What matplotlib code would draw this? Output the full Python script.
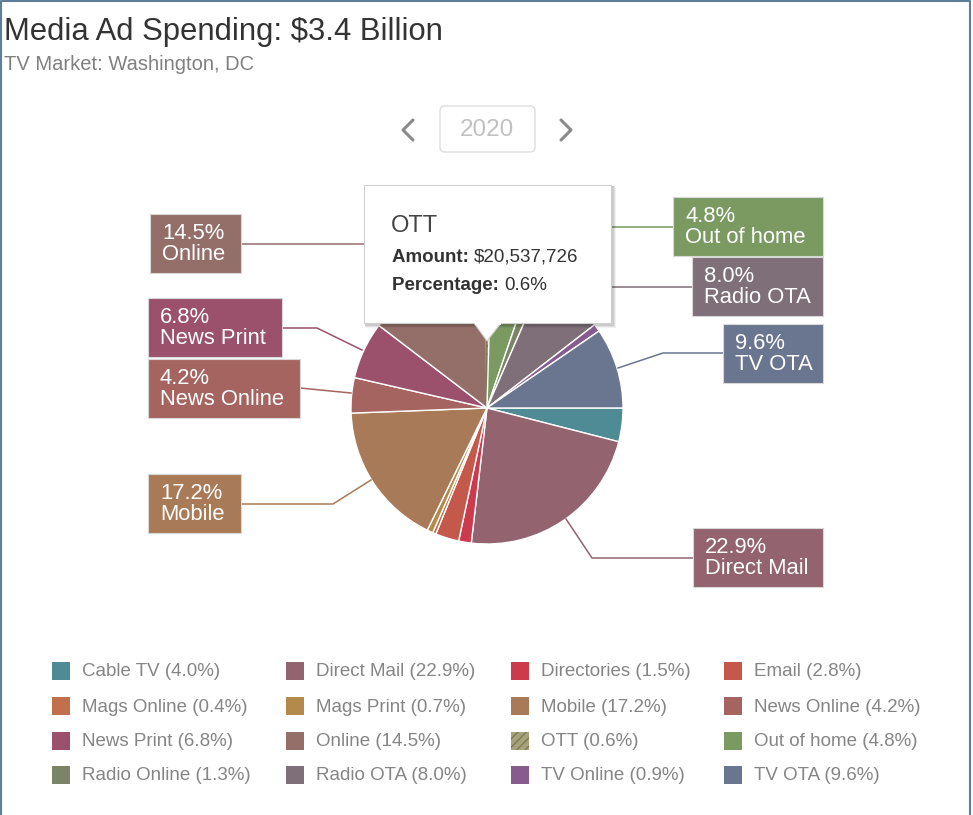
import matplotlib
matplotlib.use("Agg")
import matplotlib.pyplot as plt
from matplotlib.patches import Rectangle, FancyBboxPatch, Polygon

plt.rcParams['font.family'] = ['Liberation Sans', 'DejaVu Sans']

# data
categories = ['Cable TV', 'Direct Mail', 'Directories', 'Email', 'Mags Online', 'Mags Print',
              'Mobile', 'News Online', 'News Print', 'Online', 'OTT', 'Out of home',
              'Radio Online', 'Radio OTA', 'TV Online', 'TV OTA']
shares = [4.0, 22.9, 1.5, 2.8, 0.4, 0.7, 17.2, 4.2, 6.8, 14.5, 0.6, 4.8, 1.3, 8.0, 0.9, 9.6]
colors = ['#4e8b95', '#93646f', '#cb3a4d', '#c4594b', '#c1704b', '#b48a4c',
          '#a97a57', '#a5645f', '#9b506c', '#946f6a', '#a6a27c', '#7a9a62',
          '#7c8468', '#7f6f78', '#855c8c', '#6a7590']
year = '2020'
total_label = '$3.4 Billion'
market = 'Washington, DC'
tip_name = 'OTT'
tip_amount = '$20,537,726'

# callout boxes: name -> (box left, box top, box width, leader points)
callouts = {
    'Online':      (150, 214, 91,  [(241, 244), (365, 244)]),
    'News Print':  (148, 298, 134, [(282, 328), (317, 328), (362, 350)]),
    'News Online': (148, 359, 152, [(300, 388), (351, 393)]),
    'Mobile':      (148, 474, 93,  [(241, 504), (333, 504), (371, 480)]),
    'Direct Mail': (693, 528, 130, [(693, 558), (592, 558), (566, 519)]),
    'Out of home': (673, 197, 150, [(673, 227), (612, 227)]),
    'Radio OTA':   (692, 257, 131, [(692, 287), (612, 287)]),
    'TV OTA':      (723, 324, 100, [(723, 353), (663, 353), (618, 368)]),
}

fig = plt.figure(figsize=(9.73, 8.15), dpi=100)
ax = fig.add_axes([0, 0, 1, 1])

cx, cy, r = 487, 408, 136
wedges, _ = ax.pie(shares, colors=colors, startangle=0, counterclock=True,
                   center=(cx, cy), radius=r,
                   wedgeprops=dict(edgecolor='white', linewidth=1.0))
i_ott = categories.index('OTT')
wedges[i_ott].set_hatch('////')
wedges[i_ott].set_edgecolor('#7e7a55')
ax.set_xlim(0, 973)
ax.set_ylim(815, 0)
ax.set_aspect('auto')
ax.axis('off')

# border
ax.plot([1, 1, 970, 970], [815, 1, 1, 815], color='#5b7f9b', lw=1.5, zorder=1)

# titles
ax.text(4, 32, f'Media Ad Spending: {total_label}', fontsize=22.3, color='#333333', va='center')
ax.text(4, 64, f'TV Market: {market}', fontsize=14.5, color='#808080', va='center')

# year selector
ax.add_patch(FancyBboxPatch((440, 106), 95, 46, boxstyle='round,pad=0,rounding_size=5',
                            fc='white', ec='#dddddd', lw=1))
ax.text(487, 130, year, fontsize=17.5, color='#c0c0c0', ha='center', va='center')
ax.plot([413, 403, 413], [120, 130, 140], color='#8a8a8a', lw=2.2, solid_capstyle='round')
ax.plot([561, 571, 561], [120, 130, 140], color='#8a8a8a', lw=2.2, solid_capstyle='round')

# callouts
for name, (bx, by, bw, pts) in callouts.items():
    c = colors[categories.index(name)]
    xs, ys = zip(*pts)
    ax.plot(xs, ys, color=c, lw=1.1, zorder=2)
    ax.add_patch(Rectangle((bx, by), bw, 59, fc=c, ec='#d8d8d8', lw=0.8, zorder=3))
    val = shares[categories.index(name)]
    ax.text(bx + 12, by + 30, f'{val:.1f}%\n{name}', fontsize=15.8, color='white',
            va='center', ha='left', linespacing=0.98, zorder=4)

# tooltip
tx, ty, tw, th = 364, 185, 247, 138
for k, a in [(4, 0.05), (3, 0.07), (2, 0.09)]:
    ax.add_patch(Rectangle((tx + 1, ty + 1), tw + k, th + k, fc='black', ec='none', alpha=a, zorder=5))
ax.add_patch(Polygon([(474, ty + th), (501, ty + th), (487, 341)], closed=True,
                     fc='white', ec='#cfcfcf', lw=0.8, zorder=6))
ax.add_patch(Rectangle((tx, ty), tw, th, fc='white', ec='#cfcfcf', lw=0.8, zorder=6))
ax.add_patch(Rectangle((474.5, ty + th - 2), 26, 4, fc='white', ec='none', zorder=7))
ax.text(391, 226, tip_name, fontsize=17, color='#444444', va='center', zorder=8)
t1 = ax.text(392, 257, 'Amount: ', fontsize=13.5, color='#333333', fontweight='bold', va='center', zorder=8)
t2 = ax.text(392, 285, 'Percentage: ', fontsize=13.5, color='#333333', fontweight='bold', va='center', zorder=8)
fig.canvas.draw()
inv = ax.transData.inverted()
for t, s in [(t1, tip_amount), (t2, f'{shares[i_ott]:.1f}%')]:
    bb = t.get_window_extent()
    x_end = inv.transform((bb.x1, bb.y0))[0]
    ax.text(x_end, t.get_position()[1], s, fontsize=13.5, color='#333333', va='center', zorder=8)

# legend
col_x = [52, 286, 511, 724]
row_y = [671, 706, 741, 775]
for i, (name, val, c) in enumerate(zip(categories, shares, colors)):
    x0 = col_x[i % 4]
    y0 = row_y[i // 4]
    sq = Rectangle((x0, y0 - 9), 18, 18, fc=c, ec='none')
    if name == 'OTT':
        sq.set_hatch('////')
        sq.set_edgecolor('#7e7a55')
        sq.set_linewidth(0)
    ax.add_patch(sq)
    ax.text(x0 + 30, y0 + 1, f'{name} ({val:.1f}%)', fontsize=13.5, color='#858585', va='center')

fig.savefig('out.png', dpi=100)
